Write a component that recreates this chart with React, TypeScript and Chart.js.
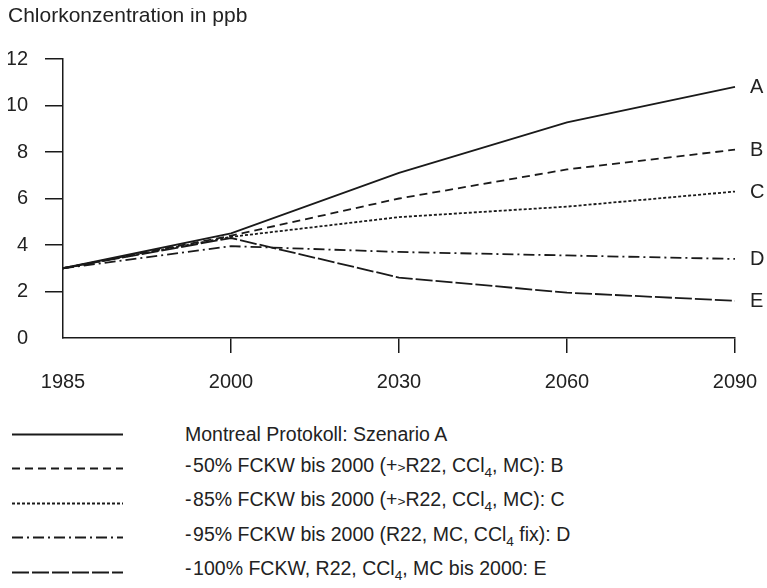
import React, { useEffect, useRef } from "react";
import { Chart, registerables } from "chart.js";

Chart.register(...registerables);

const years = ["1985", "2000", "2030", "2060", "2090"];
const seriesA = [3.0, 4.5, 7.1, 9.27, 10.8];
const seriesB = [3.0, 4.4, 6.0, 7.25, 8.1];
const seriesC = [3.0, 4.35, 5.2, 5.65, 6.3];
const seriesD = [3.0, 3.95, 3.7, 3.55, 3.4];
const seriesE = [3.0, 4.3, 2.6, 1.95, 1.6];
const endLabels = ["A", "B", "C", "D", "E"];
const yTicks = [0, 2, 4, 6, 8, 10, 12];
const titleText = "Chlorkonzentration in ppb";

const dashes: number[][] = [[], [8, 5], [3, 2], [11, 4, 2, 4], [17, 3]];
const legendItems: React.ReactNode[] = [
  <>Montreal Protokoll: Szenario A</>,
  <>-&#8202;50% FCKW bis 2000 (+<span style={{ fontSize: "0.7em" }}>&gt;</span>R22, CCl<sub style={{ fontSize: "0.7em" }}>4</sub>, MC): B</>,
  <>-&#8202;85% FCKW bis 2000 (+<span style={{ fontSize: "0.7em" }}>&gt;</span>R22, CCl<sub style={{ fontSize: "0.7em" }}>4</sub>, MC): C</>,
  <>-&#8202;95% FCKW bis 2000 (R22, MC, CCl<sub style={{ fontSize: "0.7em" }}>4</sub> fix): D</>,
  <>-&#8202;100% FCKW, R22, CCl<sub style={{ fontSize: "0.7em" }}>4</sub>, MC bis 2000: E</>,
];

const INK = "#1a1a1a";
const TEXT = "#222";
const FONT = "'Liberation Sans', Arial, Helvetica, sans-serif";

export default function App() {
  const ref = useRef<HTMLCanvasElement>(null);

  useEffect(() => {
    document.documentElement.style.overflow = "hidden";
    document.body.style.margin = "0";
    const canvas = ref.current!;
    const allSeries = [seriesA, seriesB, seriesC, seriesD, seriesE];

    const overlay = {
      id: "overlay",
      afterDraw(chart: any) {
        const ctx = chart.ctx;
        ctx.save();
        ctx.fillStyle = TEXT;
        ctx.font = `21px ${FONT}`;
        ctx.textAlign = "left";
        ctx.textBaseline = "alphabetic";
        ctx.fillText(titleText, 0, 14);
        ctx.font = `20px ${FONT}`;
        ctx.textBaseline = "middle";
        chart.data.datasets.forEach((ds: any, i: number) => {
          const meta = chart.getDatasetMeta(i);
          const pt = meta.data[meta.data.length - 1];
          ctx.fillText(endLabels[i], pt.x + 15, pt.y + 1);
        });
        ctx.restore();
      },
    };

    const chart = new Chart(canvas, {
      type: "line",
      data: {
        labels: years,
        datasets: allSeries.map((s, i) => ({
          label: endLabels[i],
          data: s,
          borderColor: INK,
          borderWidth: 1.8,
          borderDash: dashes[i],
          pointRadius: 0,
          tension: 0,
          fill: false,
        })),
      },
      options: {
        responsive: false,
        animation: false,
        events: [],
        layout: { padding: { top: 51, right: 32, bottom: 0, left: 0 } },
        plugins: {
          legend: { display: false },
          title: { display: false },
          tooltip: { enabled: false },
        },
        scales: {
          x: {
            type: "category",
            offset: false,
            afterFit: (s: any) => {
              s.height = 80;
              s.paddingLeft = 0;
              s.paddingRight = 0;
            },
            grid: {
              drawOnChartArea: false,
              drawTicks: true,
              tickLength: 15,
              lineWidth: 1.5,
              color: (c: any) => (c.index === 0 ? "rgba(0,0,0,0)" : INK),
            },
            border: { display: true, color: INK, width: 1.5 },
            ticks: {
              color: TEXT,
              font: { family: FONT, size: 20 },
              padding: 17,
              maxRotation: 0,
              autoSkip: false,
            },
          },
          y: {
            min: 0,
            max: 12,
            afterFit: (s: any) => {
              s.width = 55;
              s.paddingTop = 0;
              s.paddingBottom = 0;
            },
            afterBuildTicks: (s: any) => {
              s.ticks = yTicks.map((v) => ({ value: v }));
            },
            grid: {
              drawOnChartArea: false,
              drawTicks: true,
              tickLength: 18,
              lineWidth: 1.5,
              color: (c: any) => (c.tick && c.tick.value === 0 ? "rgba(0,0,0,0)" : INK),
            },
            border: { display: true, color: INK, width: 1.5 },
            ticks: {
              color: TEXT,
              font: { family: FONT, size: 20 },
              padding: 17,
            },
          },
        },
      },
      plugins: [overlay],
    } as any);

    return () => chart.destroy();
  }, []);

  return (
    <div style={{ position: "relative", width: 767, height: 586, fontFamily: FONT, color: TEXT }}>
      <div style={{ position: "absolute", left: 8, top: 8, width: 759, height: 410 }}>
        <canvas
          ref={ref}
          width={759}
          height={410}
          style={{ width: 759, height: 410, display: "block" }}
        />
      </div>
      {legendItems.map((item, i) => (
        <div
          key={i}
          style={{
            position: "absolute",
            left: 8,
            top: 417.5 + i * 34.5,
            height: 33,
            width: 740,
            display: "flex",
            alignItems: "center",
          }}
        >
          <svg width={130} height={33} style={{ display: "block", flex: "none" }}>
            <line
              x1={4}
              y1={16.5}
              x2={115}
              y2={16.5}
              stroke={INK}
              strokeWidth={i === 4 ? 2.2 : 1.8}
              strokeDasharray={dashes[i].length ? dashes[i].join(" ") : undefined}
            />
          </svg>
          <span style={{ marginLeft: 47, fontSize: 19.5, whiteSpace: "nowrap", lineHeight: "22px" }}>{item}</span>
        </div>
      ))}
    </div>
  );
}
